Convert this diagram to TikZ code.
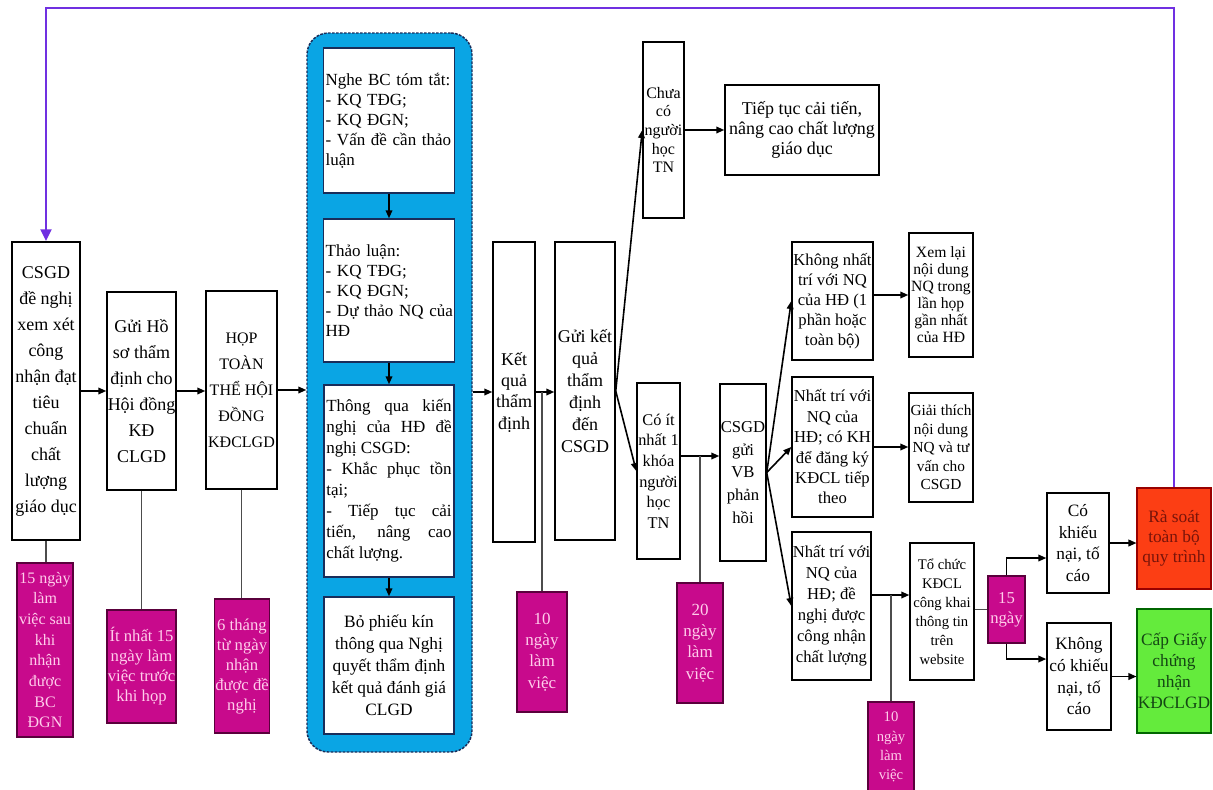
\documentclass[tikz,border=0pt]{standalone}
\usepackage{fontspec}
\setmainfont{Liberation Serif}
\usetikzlibrary{arrows.meta,calc}
\setlength{\parindent}{0pt}
\newcommand\fsz[2]{\fontsize{#1}{#2}\selectfont}
\definecolor{pinkbox}{RGB}{200,10,140}
\definecolor{pinktext}{RGB}{255,205,235}
\definecolor{pinkedge}{RGB}{90,0,60}
\definecolor{grpblue}{RGB}{10,165,228}
\definecolor{grpedge}{RGB}{25,45,90}
\definecolor{loopviolet}{RGB}{112,48,225}
\definecolor{redbox}{RGB}{252,62,20}
\definecolor{redtext}{RGB}{120,20,10}
\definecolor{greenbox}{RGB}{100,235,60}
\definecolor{greentext}{RGB}{20,70,20}
\begin{document}
\begin{tikzpicture}[x=0.75pt,y=-0.75pt,
 sz/.style 2 args={minimum width={#1*0.75pt},minimum height={#2*0.75pt}},
 box/.style={draw=black,line width=1.1pt,fill=white,inner xsep=0.5pt,inner ysep=1pt,align=center,text=black},
 ibox/.style={draw=grpedge,line width=1.1pt,fill=white,inner xsep=1.5pt,inner ysep=1pt,text=black},
 tag/.style={draw=pinkedge,line width=0.8pt,fill=pinkbox,text=pinktext,inner xsep=0.5pt,inner ysep=1pt,align=center},
 arr/.style={line width=1.2pt,draw=black,-{Triangle[length=6pt,width=5pt]}},
 link/.style={line width=1.2pt,draw=black!70},
]
\useasboundingbox (0,0) rectangle (1213,789);

% main column boxes
\node[box,sz={68}{298},font=\fsz{13.5}{19.5}] (n1) at (46,391) {CSGD\\đề nghị\\xem xét\\công\\nhận đạt\\tiêu\\chuẩn\\chất\\lượng\\giáo dục};
\node[box,sz={69}{198},font=\fsz{13.5}{19.5}] (n2) at (141.5,391) {Gửi Hồ\\sơ thẩm\\định cho\\Hội đồng\\KĐ\\CLGD};
\node[box,sz={71}{198},font=\fsz{12}{19.5}] (n3) at (241.5,390) {HỌP\\TOÀN\\THỂ HỘI\\ĐỒNG\\KĐCLGD};

\node[tag,sz={56}{174},font=\fsz{12}{15.5}] (p1) at (45,650) {15 ngày\\làm\\việc sau\\khi\\nhận\\được\\BC\\ĐGN};
\node[tag,sz={69}{113},font=\fsz{12.5}{15}] (p2) at (141.5,666.5) {Ít nhất 15\\ngày làm\\việc trước\\khi họp};
\node[tag,sz={54}{134},font=\fsz{12.5}{15}] (p3) at (242,666) {6 tháng\\từ ngày\\nhận\\được đề\\nghị};

% blue group
\node[draw=grpedge,dash pattern=on 2pt off 1pt,line width=1.1pt,fill=grpblue,rounded corners=16pt,sz={165}{719}] (grp) at (389.5,392.5) {};
\node[ibox,sz={130}{145},text width=95pt,align=left,font=\fsz{12.75}{15}] (A) at (389,120.5) {Nghe~BC~tóm~tắt:\\-~KQ~TĐG;\\-~KQ~ĐGN;\\-~Vấn~đề~cần~thảo\\luận};
\node[ibox,sz={130}{143},text width=95pt,align=left,font=\fsz{12.75}{15}] (B) at (389,290.5) {Thảo~luận:\\-~KQ~TĐG;\\-~KQ~ĐGN;\\\mbox{- Dự thảo NQ của}\\HĐ};
\node[ibox,sz={130}{192},text width=94pt,align=justify,font=\fsz{12.75}{15.75}] (C) at (389,481) {Thông qua kiến\linebreak nghị của HĐ đề\linebreak nghị CSGD:\\- Khắc phục tồn\linebreak tại;\\- Tiếp tục cải\linebreak tiến, nâng cao\linebreak chất lượng.};
\node[ibox,sz={130}{137},align=center,font=\fsz{13}{16.5}] (D) at (389,665.5) {Bỏ phiếu kín\\thông qua Nghị\\quyết thẩm định\\kết quả đánh giá\\CLGD};

% result boxes
\node[box,sz={42}{300},font=\fsz{13.5}{16}] (n5) at (514,392) {Kết\\quả\\thẩm\\định};
\node[box,sz={60}{298},font=\fsz{13.5}{16.5}] (n6) at (585,391) {Gửi kết\\quả\\thẩm\\định\\đến\\CSGD};
\node[tag,sz={50}{120},font=\fsz{12.75}{16}] (p5) at (542,652) {10\\ngày\\làm\\việc};

\node[box,sz={41}{176},font=\fsz{12}{14}] (n7a) at (663.5,130) {Chưa\\có\\người\\học\\TN};
\node[box,sz={154}{90},font=\fsz{13.5}{15}] (n8) at (802,130) {Tiếp tục cải tiến,\\nâng cao chất lượng\\giáo dục};
\node[box,sz={43}{176},font=\fsz{12.25}{15.5}] (n7b) at (658.5,471) {Có ít\\nhất 1\\khóa\\người\\học\\TN};
\node[box,sz={46}{177},font=\fsz{12.5}{17}] (n9) at (743,472.5) {CSGD\\gửi\\VB\\phản\\hồi};
\node[tag,sz={46}{120},font=\fsz{12.75}{16}] (p7) at (700,643) {20\\ngày\\làm\\việc};

\node[box,sz={81}{118},font=\fsz{12.5}{15}] (n10a) at (832.5,301) {Không nhất\\trí với NQ\\của HĐ (1\\phần hoặc\\toàn bộ)};
\node[box,sz={81}{140},font=\fsz{12.5}{15.3}] (n10b) at (832.5,447) {Nhất trí với\\NQ của\\HĐ; có KH\\để đăng ký\\KĐCL tiếp\\theo};
\node[box,sz={79}{148},font=\fsz{12.5}{15.75}] (n10c) at (831.5,606) {Nhất trí với\\NQ của\\HĐ; đề\\nghị được\\công nhận\\chất lượng};

\node[box,sz={64}{124},font=\fsz{11.75}{12.75}] (n11a) at (941,295) {Xem lại\\nội dung\\NQ trong\\lần họp\\gần nhất\\của HĐ};
\node[box,sz={64}{109},font=\fsz{11.5}{13.9}] (n11b) at (941,447.5) {Giải thích\\nội dung\\NQ và tư\\vấn cho\\CSGD};
\node[box,sz={64}{137},font=\fsz{11}{14.25}] (n12) at (942,611.5) {Tổ chức\\KĐCL\\công khai\\thông tin\\trên\\website};
\node[tag,sz={46}{90},font=\fsz{11}{14.5}] (p10) at (891,747) {10\\ngày\\làm\\việc};
\node[tag,sz={37}{67},font=\fsz{12.5}{15}] (p12) at (1006.5,609.5) {15\\ngày};

\node[box,sz={62}{100},font=\fsz{13}{16.25}] (n13a) at (1078,543) {Có\\khiếu\\nại, tố\\cáo};
\node[box,sz={64}{107},font=\fsz{13}{16.25}] (n13b) at (1079,676.5) {Không\\có khiếu\\nại, tố\\cáo};
\node[draw=red!60!black,line width=0.8pt,fill=redbox,text=redtext,inner xsep=0.5pt,align=center,sz={74}{101},font=\fsz{13}{15}] (n14a) at (1174,538.5) {Rà soát\\toàn bộ\\quy trình};
\node[draw=green!40!black,line width=0.8pt,fill=greenbox,text=greentext,inner xsep=0.5pt,align=center,sz={74}{124},font=\fsz{13}{15.75}] (n14b) at (1174,671) {Cấp Giấy\\chứng\\nhận\\KĐCLGD};

% connectors
\draw[arr] (n1.east) -- (n1.east -| n2.west);
\draw[arr] (n2.east) -- (n2.east -| n3.west);
\draw[arr] (n3.east) -- (n3.east -| grp.west);
\draw[link] (n1.south) -- (n1.south |- p1.north);
\draw[link] (n2.south) -- (n2.south |- p2.north);
\draw[link] (n3.south) -- (n3.south |- p3.north);
\draw[arr] (A.south) -- (B.north);
\draw[arr] (B.south) -- (C.north);
\draw[arr] (C.south) -- (D.north);
\draw[arr] (grp.east |- n5.west) -- (n5.west);
\draw[arr] (n5.east) -- (n5.east -| n6.west);
\draw[link] (p5.north) -- (p5.north |- n5.east);
\draw[arr] (n6.east) -- (n7a.west);
\draw[arr] (n6.east) -- (n7b.west);
\draw[arr] (n7a.east) -- (n8.west);
\coordinate (m7) at ([yshift=11.25pt]n7b.east);
\draw[arr] (m7) -- (m7 -| n9.west);
\draw[link] (p7.north) -- (p7.north |- m7);
\draw[arr] (n9.east) -- (n10a.west);
\draw[arr] (n9.east) -- (n10b.west);
\draw[arr] (n9.east) -- (n10c.west);
\draw[arr] (n10a.east |- n11a.west) -- (n11a.west);
\draw[arr] (n10b.east) -- (n10b.east -| n11b.west);
\coordinate (m10) at ([yshift=8.25pt]n10c.east);
\draw[arr] (m10) -- (m10 -| n12.west);
\draw[link] (p10.north) -- (p10.north |- m10);
\draw[link] (n12.east |- p12.west) -- (p12.west);
\draw[arr] (p12.north) |- ([yshift=-11.25pt]n13a.west);
\draw[arr] (p12.south) |- ([yshift=13.1pt]n13b.west);
\draw[arr] (n13a.east) -- (n13a.east -| n14a.west);
\draw[arr] (n13b.east) -- (n13b.east -| n14b.west);
\coordinate (topy) at (0,8);
\draw[line width=2.2pt,draw=loopviolet,-{Triangle[length=9pt,width=8pt]}] (n14a.north) -- (n14a.north |- topy) -- (n1.north |- topy) -- (n1.north);
\end{tikzpicture}
\end{document}
